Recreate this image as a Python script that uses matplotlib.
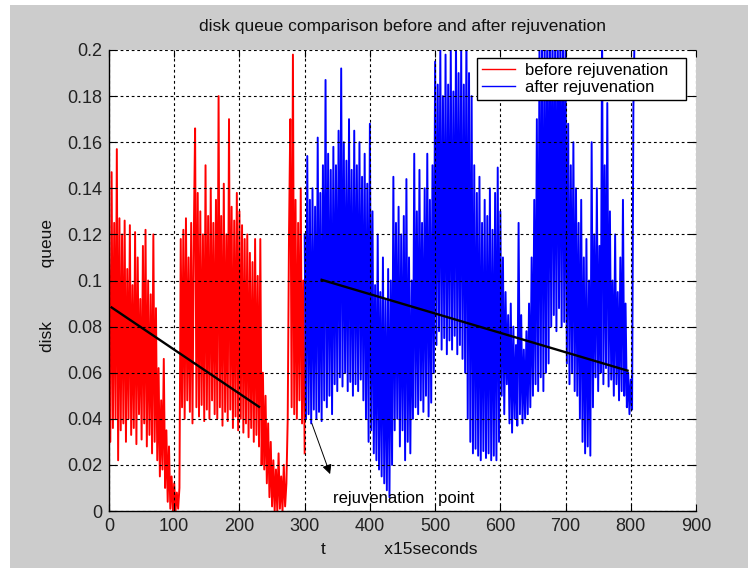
import matplotlib
matplotlib.use("Agg")
import matplotlib.pyplot as plt
from matplotlib.patches import Rectangle
import numpy as np

# ---------------- data ----------------
sample_step = 2            # one sample every 2 time units (x15 s)
before_start = 0
after_start = 300

before_queue = [
    0.112, 0.030, 0.147, 0.036, 0.125, 0.040, 0.157, 0.022, 0.127, 0.035,
    0.120, 0.038, 0.126, 0.030, 0.105, 0.040, 0.124, 0.033, 0.098, 0.036,
    0.121, 0.029, 0.110, 0.042, 0.092, 0.031, 0.115, 0.038, 0.122, 0.028,
    0.100, 0.033, 0.094, 0.025, 0.120, 0.030, 0.088, 0.022, 0.062, 0.015,
    0.048, 0.018, 0.066, 0.010, 0.035, 0.004, 0.028, 0.001, 0.015, 0.000,
    0.012, 0.000, 0.008, 0.001, 0.010, 0.118, 0.045, 0.122, 0.040, 0.127,
    0.048, 0.110, 0.043, 0.125, 0.038, 0.118, 0.166, 0.045, 0.138, 0.041,
    0.130, 0.046, 0.120, 0.039, 0.150, 0.044, 0.128, 0.040, 0.140, 0.048,
    0.125, 0.042, 0.135, 0.040, 0.180, 0.045, 0.128, 0.037, 0.142, 0.043,
    0.120, 0.039, 0.170, 0.044, 0.132, 0.036, 0.126, 0.041, 0.138, 0.035,
    0.130, 0.040, 0.124, 0.034, 0.118, 0.038, 0.120, 0.032, 0.112, 0.036,
    0.108, 0.030, 0.118, 0.033, 0.102, 0.028, 0.118, 0.020, 0.060, 0.018,
    0.050, 0.012, 0.038, 0.006, 0.030, 0.002, 0.022, 0.000, 0.018, 0.000,
    0.025, 0.001, 0.015, 0.000, 0.020, 0.002, 0.012, 0.040, 0.120, 0.170,
    0.045, 0.198, 0.042, 0.135, 0.040, 0.125, 0.048, 0.140, 0.038, 0.100,
    0.025,
]

after_queue = [
    0.120, 0.040, 0.154, 0.042, 0.135, 0.038, 0.140, 0.044, 0.132, 0.040,
    0.162, 0.043, 0.138, 0.039, 0.150, 0.048, 0.187, 0.045, 0.155, 0.050,
    0.148, 0.042, 0.158, 0.055, 0.150, 0.052, 0.165, 0.058, 0.192, 0.054,
    0.160, 0.060, 0.152, 0.052, 0.170, 0.056, 0.148, 0.050, 0.165, 0.055,
    0.150, 0.052, 0.160, 0.057, 0.145, 0.048, 0.155, 0.040, 0.142, 0.030,
    0.168, 0.035, 0.130, 0.025, 0.098, 0.022, 0.120, 0.018, 0.095, 0.015,
    0.110, 0.012, 0.092, 0.009, 0.105, 0.006, 0.100, 0.020, 0.145, 0.035,
    0.125, 0.040, 0.132, 0.028, 0.120, 0.035, 0.128, 0.022, 0.144, 0.030,
    0.110, 0.025, 0.100, 0.040, 0.155, 0.045, 0.130, 0.042, 0.148, 0.048,
    0.125, 0.043, 0.140, 0.050, 0.155, 0.041, 0.135, 0.047, 0.150, 0.060,
    0.195, 0.072, 0.185, 0.078, 0.200, 0.070, 0.180, 0.075, 0.198, 0.068,
    0.185, 0.074, 0.200, 0.070, 0.182, 0.076, 0.205, 0.068, 0.190, 0.072,
    0.200, 0.066, 0.185, 0.060, 0.210, 0.040, 0.190, 0.030, 0.180, 0.025,
    0.150, 0.027, 0.138, 0.024, 0.145, 0.022, 0.125, 0.026, 0.135, 0.023,
    0.128, 0.025, 0.140, 0.022, 0.122, 0.024, 0.138, 0.022, 0.149, 0.030,
    0.130, 0.050, 0.110, 0.042, 0.095, 0.055, 0.085, 0.038, 0.090, 0.034,
    0.080, 0.040, 0.072, 0.037, 0.125, 0.042, 0.085, 0.038, 0.070, 0.040,
    0.078, 0.042, 0.090, 0.045, 0.110, 0.050, 0.135, 0.055, 0.170, 0.052,
    0.200, 0.058, 0.210, 0.052, 0.200, 0.060, 0.215, 0.064, 0.205, 0.080,
    0.210, 0.085, 0.200, 0.078, 0.212, 0.088, 0.205, 0.080, 0.210, 0.082,
    0.200, 0.064, 0.168, 0.055, 0.150, 0.060, 0.160, 0.052, 0.140, 0.050,
    0.125, 0.040, 0.135, 0.030, 0.110, 0.025, 0.118, 0.028, 0.100, 0.024,
    0.160, 0.045, 0.120, 0.058, 0.140, 0.052, 0.115, 0.060, 0.210, 0.055,
    0.150, 0.062, 0.177, 0.054, 0.130, 0.057, 0.100, 0.050, 0.120, 0.055,
    0.095, 0.048, 0.110, 0.052, 0.135, 0.050, 0.090, 0.045, 0.060, 0.042,
    0.057, 0.044, 0.175, 0.210,
]

# linear trend lines (end points)
before_trend_t = [4, 230]
before_trend_q = [0.0883, 0.0452]
after_trend_t = [326, 795]
after_trend_q = [0.1003, 0.0609]

# annotation arrow
arrow_from = (311, 0.038)
arrow_to = (339, 0.016)

x_ticks = [0, 100, 200, 300, 400, 500, 600, 700, 800, 900]
y_ticks = [0, 0.02, 0.04, 0.06, 0.08, 0.1, 0.12, 0.14, 0.16, 0.18, 0.2]
y_tick_labels = ["0", "0.02", "0.04", "0.06", "0.08", "0.1",
                 "0.12", "0.14", "0.16", "0.18", "0.2"]

title_text = "disk queue comparison before and after rejuvenation"
xlabel_text = "t            x15seconds"
ylabel_text = "disk           queue"
legend_labels = ["before rejuvenation", "after rejuvenation"]
note_text = "rejuvenation   point"

# ---------------- drawing ----------------
W, H = 748, 569
font = ["Liberation Sans", "DejaVu Sans"]
plt.rcParams["font.family"] = font

fig = plt.figure(figsize=(W / 100, H / 100), dpi=100, facecolor="white")
bg = Rectangle((10 / W, 1 / H), 1 - 10 / W, (H - 6) / H,
               transform=fig.transFigure, facecolor="#cccccc",
               edgecolor="none", zorder=-10)
fig.add_artist(bg)

ax = fig.add_axes([109 / W, 1 - 511 / H, (696 - 109) / W, (511 - 50) / H])
ax.set_zorder(1)
ax.set_facecolor("white")

before_t = before_start + sample_step * np.arange(len(before_queue))
after_t = after_start + sample_step * np.arange(len(after_queue))

ax.plot(before_t, before_queue, color="#ff0000", lw=1.4, label=legend_labels[0], zorder=2)
ax.plot(after_t, after_queue, color="#0000ff", lw=1.4, label=legend_labels[1], zorder=2)

ax.plot(before_trend_t, before_trend_q, color="black", lw=1.7, zorder=4)
ax.plot(after_trend_t, after_trend_q, color="black", lw=1.7, zorder=4)

ax.annotate("", xy=arrow_to, xytext=arrow_from,
            arrowprops=dict(arrowstyle="-|>", color="black", lw=0.7,
                            mutation_scale=14, shrinkA=0, shrinkB=0),
            zorder=4)
ax.text(344, 0.0033, note_text, fontsize=12,
        ha="left", va="baseline", zorder=4)

ax.set_xlim(0, 900)
ax.set_ylim(0, 0.2)
ax.set_xticks(x_ticks)
ax.set_xticklabels([str(v) for v in x_ticks])
ax.set_yticks(y_ticks)
ax.set_yticklabels(y_tick_labels)

ax.set_axisbelow(False)
ax.grid(True, color="black", linestyle=(0, (2.5, 2.5)), linewidth=0.8)

for s in ["top", "right"]:
    ax.spines[s].set_visible(False)
for s in ["left", "bottom"]:
    ax.spines[s].set_linewidth(1.0)
    ax.spines[s].set_color("black")

ax.tick_params(direction="in", top=True, right=True, length=5, width=0.8,
               colors="black", labelsize=13)
ax.tick_params(axis="x", pad=5)
ax.tick_params(axis="y", pad=4.5)
for lab in ax.get_xticklabels() + ax.get_yticklabels():
    lab.set_color("#222222")

ax.set_title(title_text, fontsize=12.5, pad=14, color="#111111")
ax.set_xlabel(xlabel_text, fontsize=12.5, color="#111111")
ax.set_ylabel(ylabel_text, fontsize=12.5, color="#111111")
ax.xaxis.set_label_coords(0.4949, -0.084)
ax.xaxis.label.set_va("center")
ax.yaxis.set_label_coords(-0.104, 0.49)
ax.yaxis.label.set_va("center")

leg = ax.legend(loc="upper left",
                bbox_to_anchor=((477 - 109) / 587, (511 - 108) / 461,
                                209 / 587, 50 / 461),
                mode="expand", borderaxespad=0, fontsize=12,
                fancybox=False, framealpha=1, edgecolor="black",
                handlelength=1.95, handletextpad=0.65, borderpad=0.3,
                labelspacing=0.1)
leg.get_frame().set_linewidth(1.0)
for line in leg.get_lines():
    line.set_linewidth(1.0)
leg.set_zorder(6)

fig.savefig("out.png", dpi=100, facecolor=fig.get_facecolor())
